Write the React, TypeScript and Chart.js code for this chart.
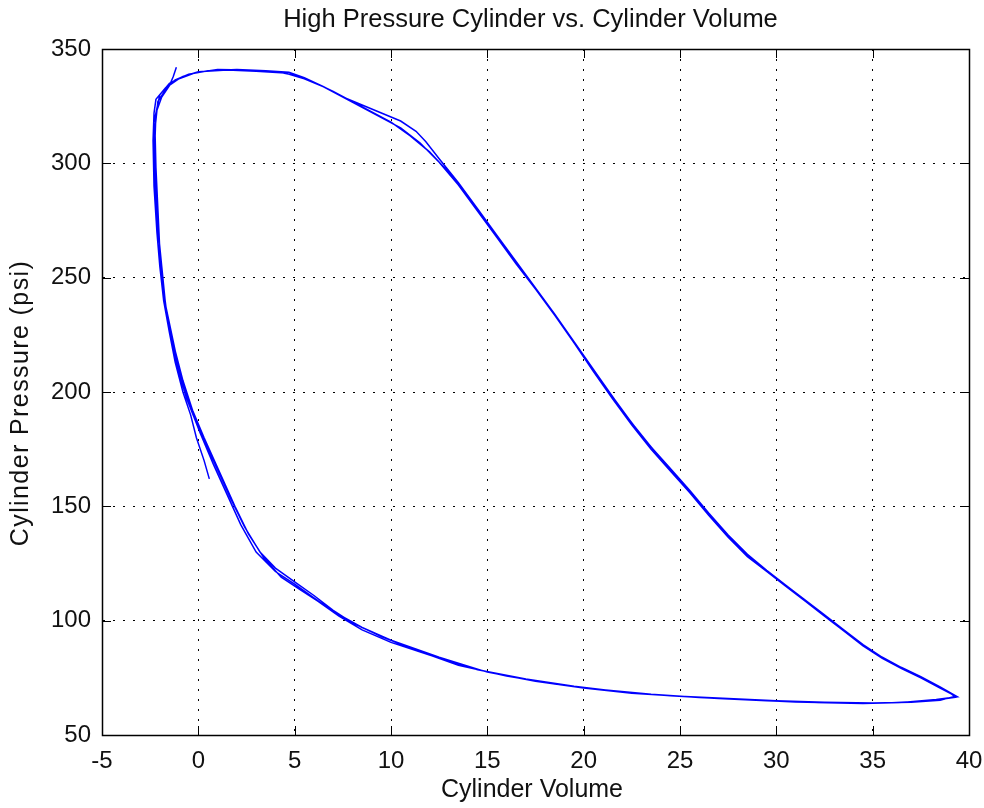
import React, { useEffect, useRef } from "react";
import { Chart, registerables } from "chart.js";

Chart.register(...registerables);

const chartTitle = "High Pressure Cylinder vs. Cylinder Volume";
const xAxisLabel = "Cylinder Volume";
const yAxisLabel = "Cylinder Pressure (psi)";

const xTicks = [-5, 0, 5, 10, 15, 20, 25, 30, 35, 40];
const yTicks = [50, 100, 150, 200, 250, 300, 350];

// cycle 1: from the loose start, up the left branch, across the top, expansion, back along the bottom
const cycle1Volume = [
  0.57, 0.3, -0.1, -0.4, -0.8, -1.2, -1.5, -1.8, -2.0, -2.15, -2.3, -2.35, -2.3, -2.2, -1.7, -1.2, -0.5, 0.5, 2, 3.5,
  4.7, 5.5, 6.5, 7.5, 8.5, 9.5, 10.5, 11.5, 12.5, 13.5, 14.5, 15.5, 16.5, 17.5, 18.5, 19.5, 20.5, 21.5, 22.5, 23.5,
  24.5, 25.5, 26.5, 27.5, 28.5, 29.5, 30.5, 31.5, 32.5, 33.5, 34.5, 35.5, 36.5, 37.5, 38.5, 39.3, 38.5, 37, 35, 32.5,
  30, 27.5, 25, 22.5, 20, 17.5, 15, 12.5, 10, 8.5, 7, 6, 5, 4, 3, 2.2, 1.5, 0.8, 0.1, -0.6,
];
const cycle1Pressure = [
  162, 170, 180, 190, 200, 213, 226, 240, 255, 270, 290, 310, 322, 328, 333, 336.5, 339, 340.5, 341, 340.5,
  339.8, 337.5, 333.5, 329, 324.5, 320, 315.5, 309, 300.5, 290.5, 279, 267.5, 256, 245, 233.5, 221.5, 209, 197, 185.5, 175,
  165.5, 156, 146, 136.5, 128, 121.5, 115, 108.5, 102, 95.5, 89, 83.5, 79, 75, 70.5, 67, 65.2, 64.3, 64, 64.3,
  65, 66, 67, 68.3, 70.5, 73.5, 77.5, 84, 91.5, 97, 104, 110, 116, 121.5, 130, 142, 155, 168, 182, 197,
];

// cycle 2
const cycle2Volume = [
  -1.1, -1.5, -1.9, -2.1, -2.2, -2.3, -2.3, -2.0, -1.5, -0.8, 0, 1.5, 3, 4.5, 5.5, 6.5, 7.5, 8.5, 9.5, 10.5,
  11.3, 11.8, 12.5, 13.5, 14.5, 15.5, 16.5, 17.5, 18.5, 19.5, 20.5, 21.5, 22.5, 23.5, 24.5, 25.5, 26.5, 27.5, 28.5, 29.5,
  30.5, 31.5, 32.5, 33.5, 34.5, 35.5, 36.5, 37.5, 38.5, 39.4, 38.3, 36.5, 34.5, 32, 29.5, 27, 24.5, 22, 19.5, 17,
  14.5, 12, 10, 8.5, 7.3, 6.2, 5.2, 4.3, 3.4, 2.6, 1.9, 1.1, 0.3, -0.3,
];
const cycle2Pressure = [
  211, 228, 248, 265, 285, 305, 318, 330, 335, 338, 340, 340.8, 340.3, 339.5, 337, 333.5, 329, 325.5, 322, 318.5,
  314, 309.5, 302, 291.5, 280, 268.5, 257, 245.5, 234, 222, 210, 198, 186.5, 176, 166.5, 157, 147, 137.5, 129, 122,
  115.5, 109, 102.5, 96, 89.5, 84, 79.5, 75.5, 71, 66.7, 65.5, 64.2, 63.8, 64.2, 65, 66, 67.2, 68.8, 71.3, 74.5,
  78.5, 85, 90.5, 96, 102, 108.5, 114, 119, 127.5, 138, 150, 165, 180, 192,
];

// cycle 3, ending at the loose end at the top left
const cycle3Volume = [
  -0.8, -1.2, -1.6, -1.8, -2.0, -2.1, -2.2, -2.25, -2.1, -1.6, -1.0, -0.2, 1, 2.5, 4, 5, 6, 7, 8, 9,
  10, 11, 12, 13, 14, 15, 16, 17, 18, 19, 20, 21, 22, 23, 24, 25, 26, 27, 28, 29,
  30, 31, 32, 33, 34, 35, 36, 37, 38, 39, 39.3, 38, 36, 34, 31, 28.5, 26, 23.5, 21, 18.5,
  16, 13.5, 11, 9.5, 8, 7, 6, 5, 4, 3.2, 2.4, 1.7, 1, 0.3, -0.4, -0.9, -1.3, -1.7, -1.9, -2.1,
  -2.2, -2.25, -2.2, -1.9, -1.5, -1.3, -1.14,
];
const cycle3Pressure = [
  205, 218, 232, 245, 262, 280, 298, 315, 327, 333.5, 337, 339.5, 341, 340.8, 340.2, 338.5, 335.5, 331.5, 327, 322.5,
  318, 312, 305, 296, 285.5, 274, 262.5, 251, 239.5, 228, 216, 204, 192, 181, 171, 161.5, 151.5, 141.5, 132.5, 125,
  118.5, 112, 105.5, 99, 92.5, 86.5, 81.5, 77.5, 73, 68.5, 66.5, 65, 64.1, 63.9, 64.4, 65.4, 66.4, 67.8, 69.8, 72.3,
  75.8, 80.5, 88, 93, 99, 104.5, 111, 117, 123, 130, 141, 153, 166, 179, 193, 206, 222, 238, 255, 272,
  292, 310, 322, 329, 334, 338, 342,
];

const FONT = "'Liberation Sans', Arial, Helvetica, sans-serif";
const TEXT_COLOR = "#111111";

export default function App() {
  const ref = useRef<HTMLCanvasElement | null>(null);

  useEffect(() => {
    if (!ref.current) return;
    const volume = [...cycle1Volume, ...cycle2Volume, ...cycle3Volume];
    const pressure = [...cycle1Pressure, ...cycle2Pressure, ...cycle3Pressure];
    const points = volume.map((v, i) => ({ x: v, y: pressure[i] }));

    const framePlugin = {
      id: "matlabFrame",
      afterDraw(chart: any) {
        const { ctx, chartArea, scales } = chart;
        const { left, right, top, bottom } = chartArea;
        const xs = scales.x;
        const ys = scales.y;
        const tickLen = 9;
        ctx.save();
        ctx.strokeStyle = "#000";
        ctx.lineWidth = 1;
        ctx.beginPath();
        xTicks.forEach((v) => {
          const px = Math.round(xs.getPixelForValue(v)) + 0.5;
          ctx.moveTo(px, bottom);
          ctx.lineTo(px, bottom - tickLen);
          ctx.moveTo(px, top);
          ctx.lineTo(px, top + tickLen);
        });
        yTicks.forEach((v) => {
          const py = Math.round(ys.getPixelForValue(v)) + 0.5;
          ctx.moveTo(left, py);
          ctx.lineTo(left + tickLen, py);
          ctx.moveTo(right, py);
          ctx.lineTo(right - tickLen, py);
        });
        ctx.stroke();
        ctx.lineWidth = 1.5;
        ctx.strokeRect(Math.round(left) + 0.5, Math.round(top) + 0.5, Math.round(right - left), Math.round(bottom - top));

        ctx.fillStyle = TEXT_COLOR;
        ctx.textAlign = "center";
        ctx.textBaseline = "middle";
        const mid = (left + right) / 2;
        ctx.font = `25.5px ${FONT}`;
        ctx.fillText(chartTitle, mid - 5, 20);
        ctx.font = `25px ${FONT}`;
        ctx.fillText(xAxisLabel, mid - 3.5, 790);
        ctx.translate(21.5, (top + bottom) / 2 + 11);
        ctx.rotate(-Math.PI / 2);
        (ctx as any).letterSpacing = "1.4px";
        ctx.font = `25px ${FONT}`;
        ctx.fillText(yAxisLabel, 0, 0);
        ctx.restore();
      },
    };

    const chart = new Chart(ref.current, {
      type: "scatter",
      data: {
        datasets: [
          {
            data: points,
            showLine: true,
            borderColor: "#0000ff",
            backgroundColor: "#0000ff",
            borderWidth: 1.5,
            pointRadius: 0,
            pointHoverRadius: 0,
            tension: 0,
            fill: false,
          },
        ],
      },
      options: {
        responsive: false,
        animation: false,
        devicePixelRatio: 1,
        layout: { padding: { top: 49, right: 15, left: 0, bottom: 0 } },
        plugins: {
          legend: { display: false },
          tooltip: { enabled: false },
          title: { display: false },
        },
        scales: {
          x: {
            type: "linear",
            min: -5,
            max: 40,
            afterBuildTicks: (s: any) => {
              s.ticks = xTicks.map((v) => ({ value: v }));
            },
            afterFit: (s: any) => {
              s.height = 73;
              s.paddingLeft = 0;
              s.paddingRight = 0;
            },
            ticks: {
              padding: 12,
              color: TEXT_COLOR,
              font: { family: FONT, size: 24 },
              maxRotation: 0,
              autoSkip: false,
            },
            grid: { color: "#000", lineWidth: 1, drawTicks: false },
            border: { display: true, color: "#000", width: 1, dash: [2, 8] },
            title: { display: false },
          },
          y: {
            type: "linear",
            min: 50,
            max: 350,
            afterBuildTicks: (s: any) => {
              s.ticks = yTicks.map((v) => ({ value: v }));
            },
            afterFit: (s: any) => {
              s.width = 102;
              s.paddingTop = 0;
              s.paddingBottom = 0;
            },
            ticks: {
              padding: 11,
              color: TEXT_COLOR,
              font: { family: FONT, size: 24 },
              autoSkip: false,
            },
            grid: { color: "#000", lineWidth: 1, drawTicks: false },
            border: { display: true, color: "#000", width: 1, dash: [2, 8] },
            title: { display: false },
          },
        },
      },
      plugins: [framePlugin],
    });

    return () => chart.destroy();
  }, []);

  return (
    <div style={{ position: "fixed", left: 0, top: 0, width: 984, height: 808, background: "#fff" }}>
      <canvas ref={ref} width={984} height={808} style={{ width: 984, height: 808, display: "block" }} />
    </div>
  );
}
